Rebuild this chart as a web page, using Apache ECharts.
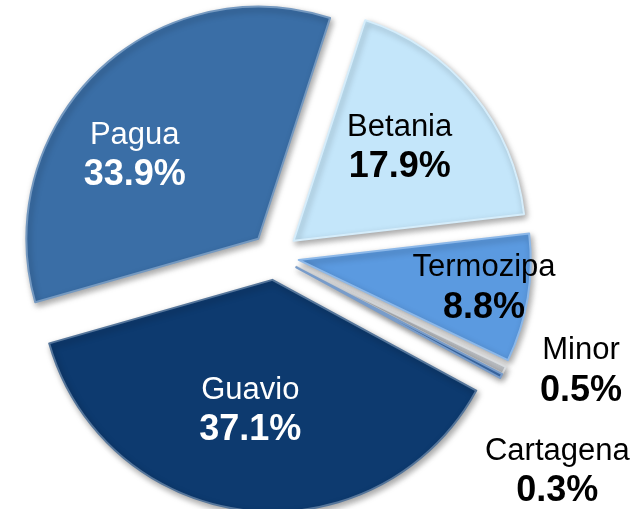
<!DOCTYPE html>
<html>
<head>
<meta charset="utf-8">
<script src="https://cdn.jsdelivr.net/npm/echarts@6/dist/echarts.min.js"></script>
<style>
  html, body { margin: 0; padding: 0; background: #fff; }
  #chart { width: 641px; height: 509px; }
</style>
</head>
<body>
<div id="chart"></div>
<script>
// plant shares, clockwise from the top
const plants = ['Betania', 'Termozipa', 'Minor', 'Cartagena', 'Guavio', 'Pagua']
const shares = [17.9, 8.8, 0.5, 0.3, 37.1, 33.9]

const sliceColors = ['#c4e6fa', '#5b9ae0', '#c9cdd2', '#3f72b4', '#0d3a6f', '#3a6ea6']
const labelColors = ['#000', '#000', '#000', '#000', '#fff', '#fff']
// label nudges from the default inside position
const labelNudge = [[14, -17], [68, 9], [178, 52], [156, 149], [-9, 13], [-41, 3]]

const chart = echarts.init(document.getElementById('chart'))

const data = plants.map((name, i) => ({
  name,
  value: shares[i],
  selected: true,
  itemStyle: {
    color: sliceColors[i],
    borderColor: echarts.color.lift(sliceColors[i], 0.3),
  },
  label: { color: labelColors[i] },
}))

chart.setOption({
  animation: false,
  series: [
    {
      type: 'pie',
      center: [275, 256],
      radius: [0, 232],
      startAngle: 72,
      clockwise: true,
      selectedMode: 'multiple',
      selectedOffset: 24,
      avoidLabelOverlap: false,
      emphasis: { disabled: true },
      itemStyle: {
        borderWidth: 2,
        shadowBlur: 6,
        shadowOffsetX: 2,
        shadowOffsetY: 3,
        shadowColor: 'rgba(0,0,0,0.35)',
      },
      label: {
        show: true,
        position: 'inside',
        fontFamily: 'Liberation Sans, Arial, sans-serif',
        formatter: p => `{n|${p.name}}\n{v|${p.value.toFixed(1)}%}`,
        rich: {
          n: { fontSize: 31, lineHeight: 38, align: 'center' },
          v: { fontSize: 36, fontWeight: 'bold', lineHeight: 42, align: 'center' },
        },
      },
      labelLine: { show: false },
      labelLayout: p => ({ dx: labelNudge[p.dataIndex][0], dy: labelNudge[p.dataIndex][1] }),
      data,
    },
  ],
})
</script>
</body>
</html>
